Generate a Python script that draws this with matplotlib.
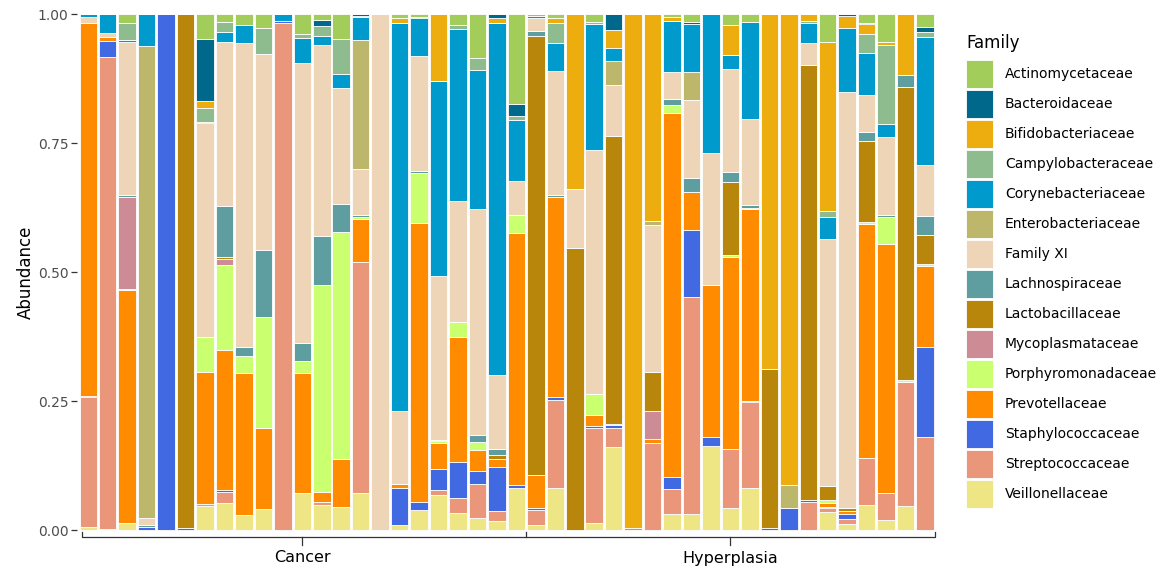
import numpy as np
import matplotlib
matplotlib.use("Agg")
from matplotlib import pyplot as plt
from matplotlib.patches import Patch
from matplotlib import transforms

#########################################
# relative abundance per family, one value per sample (44 samples)
groups = ["Cancer", "Hyperplasia"]
group_sizes = [23, 21]

veillonellaceae = [.005, .002, .014, 0, 0, 0, .046, .052, .029, .040, 0,
                   .072, .048, .044, .072, 0, .009, .039, .067, .033, .024, .017,
                   .082, .009, .082, 0, .014, .161, 0, 0, .031, .031, .163,
                   .042, .082, 0, 0, 0, .035, .011, .049, .019, .047, 0]
streptococcaceae = [.252, .914, 0, 0, 0, 0, .005, .021, 0, 0, .983,
                    0, .007, 0, .448, 0, 0, 0, .010, .030, .065, .019,
                    0, .030, .170, 0, .184, .037, 0, .168, .048, .421, 0,
                    .116, .166, 0, 0, .054, .007, .011, .090, .052, .240, .180]
staphylococcaceae = [.003, .031, 0, .006, 1.0, .003, 0, .005, 0, 0, .004,
                     0, 0, 0, 0, 0, .073, .015, .042, .069, .026, .087,
                     .005, .003, .005, 0, .003, .005, 0, 0, .023, .129, .017,
                     0, .003, .003, .042, .004, .003, .010, 0, 0, 0, .175]
prevotellaceae = [.723, .008, .450, 0, 0, 0, .256, .271, .276, .158, 0,
                  .233, .018, .094, .083, 0, .007, .541, .050, .242, .040, .015,
                  .488, .064, .389, 0, .021, .003, .003, .009, .707, .074, .294,
                  .371, .371, 0, 0, 0, .007, .005, .454, .484, 0, .157]
porphyromonadaceae = [0, 0, .002, 0, 0, 0, .068, .164, .033, .214, 0,
                      .022, .401, .440, .003, 0, 0, .097, .003, .029, .015, 0,
                      .035, 0, 0, 0, .041, 0, 0, 0, .015, 0, 0,
                      .004, .003, 0, 0, 0, .007, 0, .004, .051, .003, .004]
mycoplasmataceae = [0, 0, .178, 0, 0, 0, 0, .011, 0, 0, 0,
                    0, 0, 0, 0, 0, 0, 0, 0, 0, 0, 0,
                    0, 0, 0, 0, 0, 0, 0, .054, 0, 0, 0,
                    0, 0, 0, 0, 0, 0, 0, 0, 0, 0, 0]
lactobacillaceae = [0, 0, 0, 0, 0, .997, 0, .004, 0, 0, 0,
                    0, 0, 0, 0, 0, 0, 0, 0, 0, 0, .008,
                    0, .852, 0, .546, 0, .557, 0, .076, 0, 0, 0,
                    .141, 0, .309, 0, .844, .027, .005, .157, 0, .568, .055]
lachnospiraceae = [0, 0, .003, .003, 0, 0, 0, .098, .017, .131, 0,
                   .035, .096, .054, .004, 0, 0, .003, .003, 0, .015, .011,
                   0, .010, .004, 0, 0, 0, 0, 0, .012, .027, 0,
                   .020, .005, 0, 0, 0, 0, 0, .017, .005, .023, .037]
family_xi = [.012, .008, .296, .015, 0, 0, .413, .318, .588, .380, 0,
             .544, .370, .224, .090, 1.0, .142, .223, .316, .234, .437, .143,
             .067, .025, .239, .114, .472, .097, 0, .284, .051, .152, .256,
             .200, .166, 0, 0, .042, .479, .807, .072, .150, 0, .100]
enterobacteriaceae = [0, 0, 0, .914, 0, 0, 0, 0, 0, 0, 0,
                      0, 0, 0, .250, 0, 0, 0, 0, 0, 0, 0,
                      0, 0, 0, 0, 0, .048, 0, .007, 0, .053, 0,
                      0, 0, 0, .046, 0, 0, 0, 0, 0, 0, 0]
corynebacteriaceae = [.005, .037, .004, .062, 0, 0, .003, .019, .035, 0, .013,
                      .047, .017, .027, .045, 0, .752, .075, .379, .333, .269, .683,
                      .117, .003, .054, 0, .244, .025, 0, 0, .100, .094, .270,
                      .027, .189, 0, 0, .039, .041, .124, .082, .025, 0, .248]
campylobacteraceae = [0, 0, .032, 0, 0, 0, .027, .020, 0, .050, 0,
                      .009, .019, .068, 0, 0, 0, 0, 0, .007, .024, 0,
                      .009, 0, .040, 0, .004, 0, 0, 0, 0, 0, 0,
                      0, 0, 0, 0, .004, .012, 0, .037, .155, 0, .009]
bifidobacteriaceae = [0, 0, 0, 0, 0, 0, .013, 0, 0, 0, 0,
                      0, 0, 0, .002, 0, .009, 0, .129, 0, 0, .010,
                      0, .004, .009, .340, 0, .035, .997, .402, .008, 0, 0,
                      .057, 0, .688, .912, .013, .327, .023, .018, .005, .119, 0]
bacteroidaceae = [0, 0, 0, 0, 0, 0, .120, 0, 0, 0, 0,
                  0, .013, 0, .003, 0, 0, .002, 0, 0, 0, .007,
                  .022, 0, 0, 0, 0, .030, 0, 0, 0, .004, 0,
                  0, 0, 0, 0, 0, 0, .004, .003, 0, 0, .010]
actinomycetaceae = [0, 0, .018, 0, 0, 0, .049, .015, .022, .027, 0,
                    .038, .011, .049, 0, 0, .008, .005, 0, .022, .085, 0,
                    .175, 0, .008, 0, .015, 0, 0, 0, .005, .015, 0,
                    .022, .015, 0, 0, 0, .055, 0, .017, .054, 0, .025]

# legend order (top to bottom), stacked in reverse
families = ["Actinomycetaceae", "Bacteroidaceae", "Bifidobacteriaceae",
            "Campylobacteraceae", "Corynebacteriaceae", "Enterobacteriaceae",
            "Family XI", "Lachnospiraceae", "Lactobacillaceae", "Mycoplasmataceae",
            "Porphyromonadaceae", "Prevotellaceae", "Staphylococcaceae",
            "Streptococcaceae", "Veillonellaceae"]
values = [actinomycetaceae, bacteroidaceae, bifidobacteriaceae,
          campylobacteraceae, corynebacteriaceae, enterobacteriaceae,
          family_xi, lachnospiraceae, lactobacillaceae, mycoplasmataceae,
          porphyromonadaceae, prevotellaceae, staphylococcaceae,
          streptococcaceae, veillonellaceae]
colors = ["#A2CD5A", "#00688B", "#EEAD0E", "#8FBC8F", "#009ACD", "#BDB76B",
          "#EED5B7", "#5F9EA0", "#B8860B", "#CD8C95", "#CAFF70", "#FF8C00",
          "#4169E1", "#E9967A", "#EEE685"]

#########################################
W, H = 1170, 583
fig = plt.figure(figsize=(W / 100, H / 100), dpi=100)
ax = fig.add_axes([76.6 / W, (H - 535.2) / H, 860.1 / W, 526.3 / H])

data = np.array(values, dtype=float)
data = data / data.sum(axis=0)  # position = "fill"
n = data.shape[1]
x = np.arange(n)

bottom = np.zeros(n)
for i in range(len(families) - 1, -1, -1):
    ax.bar(x, data[i], bottom=bottom, width=0.9, color=colors[i],
           edgecolor="white", linewidth=0.6)
    bottom = bottom + data[i]

ax.set_xlim(-0.6, n - 0.4)
ax.set_ylim(-0.01, 1.01)
for s in ax.spines.values():
    s.set_visible(False)
ax.set_xticks([])
ax.set_yticks([0, 0.25, 0.5, 0.75, 1.0])
ax.set_yticklabels(["0.00", "0.25", "0.50", "0.75", "1.00"])
ax.tick_params(axis="y", length=4, width=0.9, color="#333333",
               labelcolor="#4D4D4D", labelsize=10, pad=2)
ax.set_ylabel("Abundance", fontsize=12, labelpad=2)

#########################################
# group bracket under the bars
tr = transforms.blended_transform_factory(ax.transData, fig.transFigure)
def fy(px):
    return 1 - px / H

lc = "#333333"
ax.plot([-0.3, -0.3, n - 0.5, n - 0.5], [fy(532), fy(537), fy(537), fy(532)],
        color=lc, lw=0.9, transform=tr, clip_on=False)
edges = np.cumsum(group_sizes)
start = 0
for g, size in zip(groups, group_sizes):
    mid = start + (size - 1) / 2
    ax.plot([mid, mid], [fy(537), fy(545)], color=lc, lw=0.9,
            transform=tr, clip_on=False)
    ax.text(mid, fy(558), g, transform=tr, ha="center", va="center",
            fontsize=11.5, color="black")
    start += size
sep = edges[0] - 0.5
ax.plot([sep, sep], [fy(532), fy(537)], color=lc, lw=0.9,
        transform=tr, clip_on=False)

#########################################
handles = [Patch(facecolor=c, edgecolor="white", linewidth=0.6) for c in colors]
leg = fig.legend(handles, families, loc="upper left",
                 bbox_to_anchor=(966 / W, fy(60)), frameon=False,
                 fontsize=10, handlelength=1.95, handleheight=2.725,
                 handletextpad=0.86, labelspacing=0.144, borderpad=0,
                 borderaxespad=0)
fig.text(966 / W, fy(43), "Family", fontsize=12, ha="left", va="center")

fig.savefig("out.png", dpi=100)
